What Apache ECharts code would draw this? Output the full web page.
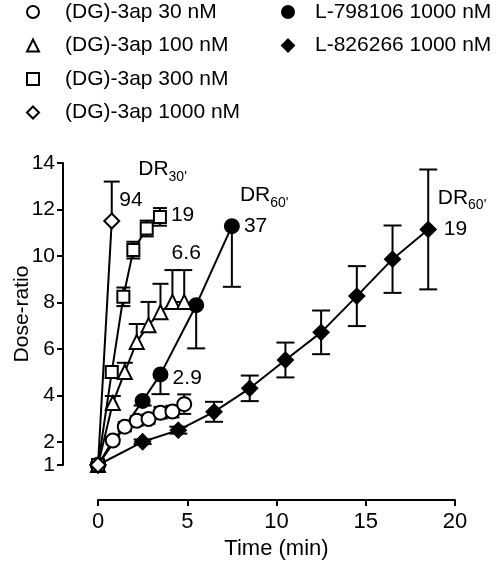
<!DOCTYPE html>
<html><head><meta charset="utf-8">
<script src="https://cdn.jsdelivr.net/npm/echarts@6/dist/echarts.min.js"></script>
<style>html,body{margin:0;padding:0;background:#fff}#c{width:502px;height:568px}</style>
</head><body><div id="c"></div>
<script>
// ---- data ----
const names = ['(DG)-3ap 30 nM', '(DG)-3ap 100 nM', '(DG)-3ap 300 nM', '(DG)-3ap 1000 nM', 'L-798106 1000 nM', 'L-826266 1000 nM'];

const t30 = [0, 0.83, 1.5, 2.17, 2.83, 3.5, 4.17, 4.83];
const v30 = [1, 2.05, 2.65, 2.9, 2.98, 3.25, 3.3, 3.62];
const e30 = [0, 0.15, 0.2, 0.2, 0.2, 0.25, 0.25, 0.42];

const t100 = [0, 0.83, 1.5, 2.17, 2.83, 3.5, 4.17, 4.83];
const v100 = [1, 3.67, 5.0, 6.3, 7.02, 7.58, 8.02, 8.02];
const e100 = [0, 0.3, 0.4, 0.77, 1.0, 1.22, 1.37, 1.37];

const t300 = [0, 0.77, 1.42, 1.98, 2.73, 3.47];
const v300 = [1, 5.0, 8.24, 10.25, 11.18, 11.68];
const e300 = [0, 0.25, 0.4, 0.36, 0.34, 0.38];

const t1000 = [0, 0.77];
const v1000 = [1, 11.5];
const e1000 = [0, 1.7];

const tL798 = [0, 2.5, 3.5, 5.5, 7.5];
const vL798 = [1, 3.76, 4.9, 7.88, 11.28];
const eL798 = [0, 0.2, 0.85, 1.86, 2.61];

const tL826 = [0, 2.5, 4.5, 6.5, 8.5, 10.5, 12.5, 14.5, 16.5, 18.5];
const vL826 = [1, 2.0, 2.5, 3.29, 4.30, 5.52, 6.71, 8.27, 9.86, 11.14];
const eL826 = [0, 0.1, 0.15, 0.43, 0.55, 0.75, 0.94, 1.29, 1.45, 2.58];

const yTicks = [1, 2, 4, 6, 8, 10, 12, 14];
const drText = { s1000: "30'", sL798: "60'", sL826: "60'" };
const drValue = { s30: '2.9', s100: '6.6', s300: '19', s1000: '94', sL798: '37', sL826: '19' };

// ---- chart ----
const FONT = 'Liberation Sans, Arial, sans-serif';
const FS = 21;
const chart = echarts.init(document.getElementById('c'), null, { renderer: 'canvas' });

function pts(t, v) { return t.map((x, i) => [x, v[i]]); }
// error rows: [t, v, low, high]
function errRows(t, v, e, dir) {
  return t.map((x, i) => [x, v[i], dir === 'up' ? v[i] : v[i] - e[i], dir === 'down' ? v[i] : v[i] + e[i]]);
}

function errSeries(rows, capHalf) {
  return {
    type: 'custom', z: 1, silent: true, clip: false,
    data: rows,
    encode: { x: 0, y: 1 },
    renderItem: function (params, api) {
      const x = api.value(0), v = api.value(1), lo = api.value(2), hi = api.value(3);
      if (hi - lo <= 0) return null;
      const p0 = api.coord([x, lo]), p1 = api.coord([x, hi]);
      const st = { stroke: '#000', lineWidth: 2 };
      const ch = [{ type: 'line', shape: { x1: p0[0], y1: p0[1], x2: p1[0], y2: p1[1] }, style: st }];
      if (hi > v) ch.push({ type: 'line', shape: { x1: p1[0] - capHalf, y1: p1[1], x2: p1[0] + capHalf, y2: p1[1] }, style: st });
      if (lo < v) ch.push({ type: 'line', shape: { x1: p0[0] - capHalf, y1: p0[1], x2: p0[0] + capHalf, y2: p0[1] }, style: st });
      return { type: 'group', children: ch };
    }
  };
}

function lineSeries(name, data, symbol, size, filled, labelIdx, label) {
  const d = data.map((p, i) => (i === labelIdx ? { value: p, label: label } : { value: p }));
  return {
    type: 'line', name: name, z: 2, data: d, symbol: symbol, symbolSize: size,
    showAllSymbol: true, silent: true,
    lineStyle: { color: '#000', width: 2 },
    itemStyle: { color: filled ? '#000' : '#fff', borderColor: '#000', borderWidth: 2 },
    emphasis: { disabled: true },
    label: { show: false }
  };
}

const simpleLabel = (txt, pos, dist, off) => ({
  show: true, position: pos, distance: dist, offset: off, formatter: txt,
  fontSize: FS, color: '#000', fontFamily: FONT
});
const drLabel = (sub, val, dist, off, padDR, padN) => ({
  show: true, position: 'right', distance: dist, offset: off, align: 'left',
  formatter: '{dr|DR}{sub|' + sub + '}\n{n|' + val + '}',
  rich: {
    dr: { fontSize: FS, lineHeight: 31, color: '#000', fontFamily: FONT, padding: [0, 0, 0, padDR] },
    sub: { fontSize: 14, lineHeight: 14, verticalAlign: 'bottom', padding: [0, 0, 1, 0], color: '#000', fontFamily: FONT },
    n: { fontSize: FS, lineHeight: 31, color: '#000', fontFamily: FONT, padding: [0, 0, 0, padN] }
  }
});

const series = [
  errSeries(errRows(tL826, vL826, eL826, 'both'), 9),
  errSeries(errRows(tL798, vL798, eL798, 'down'), 9),
  errSeries(errRows(t30, v30, e30, 'both'), 7),
  errSeries(errRows(t100, v100, e100, 'up'), 8),
  errSeries(errRows(t300, v300, e300, 'both'), 7),
  errSeries(errRows(t1000, v1000, e1000, 'up'), 8),
  lineSeries(names[5], pts(tL826, vL826), 'diamond', 15, true, tL826.length - 1,
    drLabel(drText.sL826, drValue.sL826, 1, [0, -16], 0, 6)),
  lineSeries(names[4], pts(tL798, vL798), 'circle', 14, true, tL798.length - 1,
    drLabel(drText.sL798, drValue.sL798, 0, [0, -15], 0, 4)),
  lineSeries(names[0], pts(t30, v30), 'circle', 14, false, t30.length - 1,
    simpleLabel(drValue.s30, 'top', 7, [3, 0])),
  lineSeries(names[1], pts(t100, v100), 'triangle', 14, false, t100.length - 1,
    simpleLabel(drValue.s100, 'top', 30, [2, 0])),
  lineSeries(names[2], pts(t300, v300), 'rect', 12, false, t300.length - 1,
    simpleLabel(drValue.s300, 'right', 4, [0, -2])),
  lineSeries(names[3], pts(t1000, v1000), 'diamond', 15, false, t1000.length - 1,
    drLabel(drText.s1000, drValue.s1000, -1, [0, -36], 19, 0))
];

const icons = ['circle', 'triangle', 'rect', 'diamond', 'circle', 'diamond'];
const fills = ['#fff', '#fff', '#fff', '#fff', '#000', '#000'];
const legendItem = i => ({ name: names[i], icon: icons[i], itemStyle: { color: fills[i], borderColor: '#000', borderWidth: 2 } });
const legendCommon = {
  orient: 'vertical', top: 0, padding: 0, itemWidth: 12, itemHeight: 12, itemGap: 9.5,
  selectedMode: false
};

chart.setOption({
  animation: false,
  backgroundColor: '#fff',
  textStyle: { fontFamily: FONT },
  legend: [
    Object.assign({}, legendCommon, { left: 26, data: [0, 1, 2, 3].map(legendItem),
      textStyle: { fontSize: FS, lineHeight: 24, color: '#000', fontFamily: FONT, padding: [0, 0, 0, 21] } }),
    Object.assign({}, legendCommon, { left: 281, data: [4, 5].map(legendItem),
      textStyle: { fontSize: FS, lineHeight: 24, color: '#000', fontFamily: FONT, padding: [0, 0, 0, 16] } })
  ],
  grid: { left: 98, right: 47, top: 163, bottom: 103, containLabel: false, outerBoundsMode: 'none' },
  xAxis: {
    type: 'value', min: 0, max: 20, interval: 5, offset: 35,
    axisLine: { show: true, onZero: false, lineStyle: { color: '#000', width: 2 } },
    axisTick: { show: true, length: 6, lineStyle: { color: '#000', width: 2 } },
    axisLabel: { fontSize: 22, color: '#000', margin: 11, fontFamily: FONT },
    splitLine: { show: false },
    name: 'Time (min)', nameLocation: 'middle', nameGap: 37,
    nameTextStyle: { fontSize: 22, color: '#000', fontFamily: FONT }
  },
  yAxis: {
    type: 'value', min: 1, max: 14, offset: 35,
    axisLine: { show: true, onZero: false, lineStyle: { color: '#000', width: 2 } },
    axisTick: { show: true, length: 6, customValues: yTicks, lineStyle: { color: '#000', width: 2 } },
    axisLabel: { fontSize: 21, color: '#000', margin: 8, customValues: yTicks, fontFamily: FONT },
    splitLine: { show: false },
    name: 'Dose-ratio', nameLocation: 'middle', nameGap: 30, nameRotate: 90, nameMoveOverlap: false,
    nameTextStyle: { fontSize: 21, color: '#000', fontFamily: FONT }
  },
  series: series
});
</script></body></html>
